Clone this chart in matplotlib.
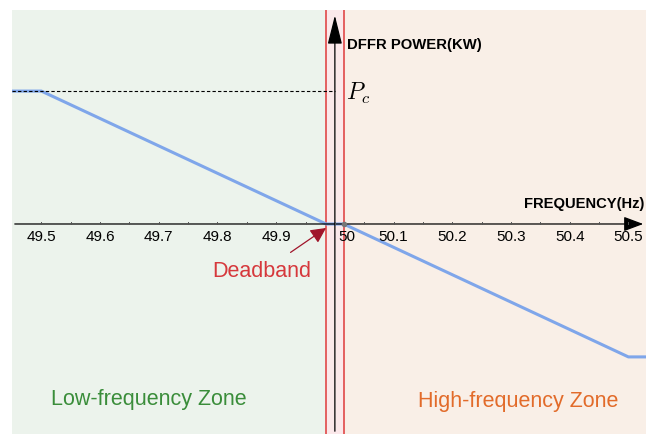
import numpy as np
import matplotlib.pyplot as plt

plt.rcParams['font.family'] = ['Liberation Sans', 'DejaVu Sans']
plt.rcParams['mathtext.fontset'] = 'cm'

# DFFR droop curve (frequency in Hz, power in per-unit of Pc)
freq = [49.45, 49.5, 49.985, 50.015, 50.5, 50.53]
power = [1.0, 1.0, 0.0, 0.0, -1.0, -1.0]
tick_freqs = [49.5, 49.6, 49.7, 49.8, 49.9, 50.0, 50.1, 50.2, 50.3, 50.4, 50.5]
tick_labels = ["49.5", "49.6", "49.7", "49.8", "49.9", "50", "50.1", "50.2", "50.3", "50.4", "50.5"]
deadband = (49.985, 50.015)

fig = plt.figure(figsize=(6.46, 4.34), dpi=100)
ax = fig.add_axes([12 / 646, 0, 634 / 646, 424 / 434])
xmin, xmax = 49.45, 50.53
ymin, ymax = -1.58, 1.61
ax.set_xlim(xmin, xmax)
ax.set_ylim(ymin, ymax)
ax.axis("off")

# zone backgrounds
ax.axvspan(xmin, deadband[0], color="#ecf3ec", lw=0, zorder=0)
ax.axvspan(deadband[1], xmax, color="#f9efe7", lw=0, zorder=0)
ax.axvspan(deadband[0], deadband[1], color="#fbe8ea", lw=0, zorder=0)
for x in deadband:
    ax.axvline(x, color="#e04848", lw=1.2, zorder=2)

# axes with arrows
ax.annotate("", xy=(xmax, 0), xytext=(xmin, 0),
            arrowprops=dict(arrowstyle="-|>,head_length=1.2,head_width=0.45", color="black", lw=0.9),
            zorder=3)
ax.annotate("", xy=(50.0, ymax - 0.02), xytext=(50.0, ymin),
            arrowprops=dict(arrowstyle="-|>,head_length=1.8,head_width=0.45", color="black", lw=0.9),
            zorder=3)

# ticks on frequency axis
minor = np.arange(49.5, 50.51, 0.05)
for m in minor:
    ax.plot([m, m], [0, 0.018], color="#555555", lw=0.7, zorder=3)
for f, lab in zip(tick_freqs, tick_labels):
    dx = 0.02 if lab == "50" else 0
    ax.text(f + dx, -0.045, lab, ha="center", va="top", fontsize=11, zorder=4)

ax.text(50.527, 0.15, "FREQUENCY(Hz)", ha="right", va="center", fontsize=10.6,
        fontweight="bold", zorder=4)
ax.text(50.021, 1.347, "DFFR POWER(KW)", ha="left", va="center", fontsize=10.7,
        fontweight="bold", zorder=4)

# Pc reference level
ax.plot([xmin, 50.0], [1.0, 1.0], color="black", lw=0.8, ls=(0, (3, 2)), zorder=3)
ax.text(50.019, 0.985, r"$P_c$", ha="left", va="center", fontsize=17, zorder=4)

ax.plot(freq, power, color="#7fa6ea", lw=2.2, zorder=2.5)
ax.plot([50.015], [0], "o", color="#777777", ms=3, zorder=4)

ax.annotate("Deadband", xy=(49.985, -0.03), xytext=(49.876, -0.361),
            ha="center", va="center", fontsize=15.5, color="#d6383c",
            arrowprops=dict(arrowstyle="-|>,head_length=0.6,head_width=0.3",
                            color="#a0142a", lw=0.9, shrinkA=8, shrinkB=0),
            zorder=4)

ax.text(49.683, -1.317, "Low-frequency Zone", ha="center", va="center",
        fontsize=15.5, color="#3a8d3a", zorder=4)
ax.text(50.313, -1.339, "High-frequency Zone", ha="center", va="center",
        fontsize=15.5, color="#e26b2a", zorder=4)

fig.savefig("out.png", dpi=100)
